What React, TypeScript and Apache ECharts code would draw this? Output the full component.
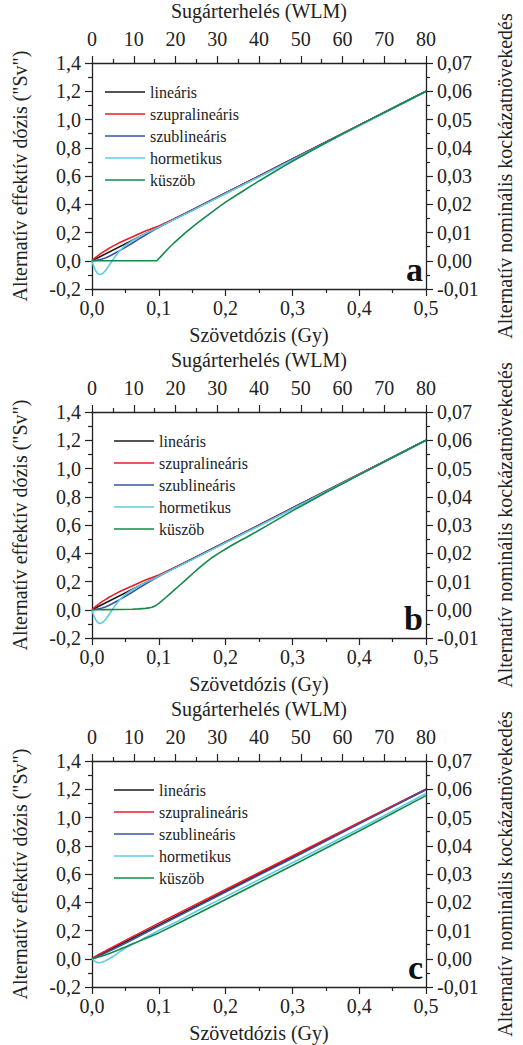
import React, { useEffect, useRef } from "react";
import * as echarts from "echarts";

const seriesNames = ["lineáris", "szupralineáris", "szublineáris", "hormetikus", "küszöb"];
const seriesColors = ["#1a1a1a", "#ed1c24", "#3953a4", "#5fcbe0", "#14894a"];
const panelLetters = ["a", "b", "c"];

const linear = [[0, 0], [0.1, 0.24], [0.2, 0.48], [0.3, 0.72], [0.4, 0.96], [0.5, 1.2]];

const supraAB = [[0, 0], [0.0025, 0.012], [0.005, 0.022], [0.0075, 0.031], [0.01, 0.04], [0.015, 0.057], [0.02, 0.072], [0.025, 0.087], [0.03, 0.1], [0.04, 0.125], [0.05, 0.147], [0.06, 0.168], [0.07, 0.19], [0.08, 0.21], [0.09, 0.228], [0.1, 0.246], [0.12, 0.29], [0.15, 0.36], [0.2, 0.48], [0.3, 0.72], [0.4, 0.96], [0.5, 1.2]];
const subAB = [[0, 0], [0.005, 0.002], [0.01, 0.006], [0.015, 0.012], [0.02, 0.02], [0.025, 0.03], [0.03, 0.042], [0.035, 0.055], [0.04, 0.068], [0.05, 0.095], [0.06, 0.124], [0.07, 0.153], [0.08, 0.182], [0.09, 0.21], [0.1, 0.236], [0.12, 0.286], [0.15, 0.358], [0.2, 0.478], [0.3, 0.718], [0.4, 0.958], [0.5, 1.2]];
const hormAB = [[0, 0], [0.0015, -0.025], [0.003, -0.045], [0.0045, -0.062], [0.006, -0.075], [0.008, -0.087], [0.01, -0.094], [0.012, -0.097], [0.014, -0.095], [0.016, -0.089], [0.018, -0.08], [0.02, -0.07], [0.022, -0.058], [0.024, -0.044], [0.026, -0.03], [0.028, -0.016], [0.03, -0.002], [0.0325, 0.015], [0.035, 0.032], [0.0375, 0.048], [0.04, 0.062], [0.045, 0.088], [0.05, 0.108], [0.055, 0.125], [0.06, 0.14], [0.07, 0.166], [0.08, 0.192], [0.09, 0.215], [0.1, 0.238], [0.15, 0.355], [0.2, 0.474], [0.25, 0.593], [0.3, 0.713], [0.4, 0.956], [0.5, 1.2]];
const thresholdA = [[0, 0], [0.097, 0], [0.101, 0.02], [0.105, 0.04], [0.11, 0.065], [0.115, 0.09], [0.12, 0.113], [0.125, 0.135], [0.13, 0.157], [0.135, 0.178], [0.14, 0.199], [0.15, 0.238], [0.16, 0.275], [0.17, 0.311], [0.18, 0.346], [0.19, 0.381], [0.2, 0.415], [0.2125, 0.453], [0.225, 0.49], [0.2375, 0.528], [0.25, 0.565], [0.2625, 0.6], [0.275, 0.635], [0.2875, 0.67], [0.3, 0.704], [0.325, 0.77], [0.35, 0.835], [0.375, 0.898], [0.4, 0.96], [0.45, 1.08], [0.5, 1.2]];
const thresholdB = [[0, 0], [0.02, 0.001], [0.04, 0.002], [0.06, 0.004], [0.07, 0.006], [0.075, 0.008], [0.08, 0.01], [0.085, 0.013], [0.09, 0.018], [0.095, 0.028], [0.1, 0.045], [0.105, 0.064], [0.11, 0.085], [0.115, 0.105], [0.12, 0.126], [0.13, 0.168], [0.14, 0.21], [0.15, 0.253], [0.16, 0.295], [0.17, 0.334], [0.18, 0.37], [0.19, 0.401], [0.2, 0.43], [0.21, 0.458], [0.22, 0.485], [0.23, 0.51], [0.24, 0.536], [0.25, 0.563], [0.26, 0.59], [0.28, 0.645], [0.3, 0.7], [0.325, 0.765], [0.35, 0.83], [0.4, 0.955], [0.45, 1.078], [0.5, 1.2]];

const supraC = [[0, 0], [0.005, 0.016], [0.01, 0.03], [0.015, 0.043], [0.02, 0.055], [0.03, 0.08], [0.05, 0.13], [0.1, 0.252], [0.2, 0.49], [0.3, 0.728], [0.4, 0.964], [0.5, 1.2]];
const subC = [[0, 0], [0.005, 0.007], [0.01, 0.017], [0.015, 0.028], [0.02, 0.04], [0.03, 0.063], [0.05, 0.11], [0.1, 0.232], [0.2, 0.472], [0.3, 0.712], [0.4, 0.955], [0.5, 1.197]];
const hormC = [[0, 0], [0.0025, -0.011], [0.005, -0.02], [0.0075, -0.025], [0.01, -0.028], [0.0125, -0.027], [0.015, -0.025], [0.0175, -0.02], [0.02, -0.015], [0.025, -0.002], [0.03, 0.012], [0.035, 0.028], [0.04, 0.045], [0.045, 0.06], [0.05, 0.075], [0.06, 0.1], [0.07, 0.125], [0.08, 0.15], [0.1, 0.2], [0.13, 0.27], [0.16, 0.345], [0.2, 0.44], [0.25, 0.56], [0.3, 0.68], [0.35, 0.8], [0.4, 0.92], [0.45, 1.045], [0.5, 1.17]];
const thresholdC = [[0, 0], [0.005, 0.006], [0.01, 0.012], [0.015, 0.019], [0.02, 0.027], [0.03, 0.044], [0.04, 0.063], [0.05, 0.083], [0.06, 0.104], [0.07, 0.123], [0.08, 0.143], [0.1, 0.183], [0.13, 0.253], [0.16, 0.324], [0.2, 0.42], [0.25, 0.54], [0.3, 0.66], [0.35, 0.782], [0.4, 0.905], [0.45, 1.03], [0.5, 1.155]];

const panels = [
  [linear, supraAB, subAB, hormAB, thresholdA],
  [linear, supraAB, subAB, hormAB, thresholdB],
  [linear, supraC, subC, hormC, thresholdC],
];

const FONT = "Liberation Serif";
const TXT = "#222";
const GRID_LEFT = 92;
const GRID_WIDTH = 345;
const GRID_TOPS = [63, 412, 761];
const GRID_HEIGHT = 226;

const comma = (v: number, d: number) => v.toFixed(d).replace(".", ",");

export default function App() {
  const ref = useRef<HTMLDivElement>(null);
  useEffect(() => {
    document.body.style.margin = "0";
    const chart = echarts.init(ref.current!, null, { renderer: "svg" });
    const axisLine = { lineStyle: { color: "#222", width: 1.3 } };
    const axisTick = { length: 7, lineStyle: { color: "#222", width: 1.2 } };
    const minorTick = { show: true, splitNumber: 2, length: 4, lineStyle: { color: "#222", width: 1.2 } };
    const label = { fontFamily: FONT, fontSize: 20, color: TXT };
    const nameStyle = { fontFamily: FONT, fontSize: 20, color: TXT };

    const grids: any[] = [];
    const xAxes: any[] = [];
    const yAxes: any[] = [];
    const legends: any[] = [];
    const series: any[] = [];
    const graphics: any[] = [];

    GRID_TOPS.forEach((top, i) => {
      grids.push({ left: GRID_LEFT, top, width: GRID_WIDTH, height: GRID_HEIGHT, show: false });
      xAxes.push({
        type: "value", gridIndex: i, position: "bottom", min: 0, max: 0.5, interval: 0.1,
        axisLine: { ...axisLine, onZero: false }, axisTick, minorTick, splitLine: { show: false },
        axisLabel: { ...label, margin: 9, formatter: (v: number) => comma(v, 1) },
        name: "Szövetdózis (Gy)", nameLocation: "middle", nameGap: 36, nameTextStyle: nameStyle,
      });
      xAxes.push({
        type: "value", gridIndex: i, position: "top", min: 0, max: 80, interval: 10,
        axisLine: { ...axisLine, onZero: false }, axisTick, minorTick, splitLine: { show: false },
        axisLabel: { ...label, margin: 14, formatter: (v: number) => String(Math.round(v)) },
        name: "Sugárterhelés (WLM)", nameLocation: "middle", nameGap: 42, nameTextStyle: nameStyle,
      });
      yAxes.push({
        type: "value", gridIndex: i, position: "left", min: -0.2, max: 1.4, interval: 0.2,
        axisLine: { ...axisLine, show: true, onZero: false }, axisTick: { ...axisTick, show: true }, minorTick, splitLine: { show: false },
        axisLabel: { ...label, margin: 11, formatter: (v: number) => comma(v, 1) },
        name: 'Alternatív effektív dózis ("Sv")', nameLocation: "middle", nameGap: 62, nameRotate: 90, nameTextStyle: nameStyle,
      });
      yAxes.push({
        type: "value", gridIndex: i, position: "right", min: -0.01, max: 0.07, interval: 0.01,
        axisLine: { ...axisLine, show: true, onZero: false }, axisTick: { ...axisTick, show: true }, minorTick, splitLine: { show: false },
        axisLabel: { ...label, margin: 11, formatter: (v: number) => comma(v, 2) },
        name: "Alternatív nominális kockázatnövekedés", nameLocation: "middle", nameGap: 69, nameRotate: 90, nameTextStyle: nameStyle,
      });
      legends.push({
        orient: "vertical", left: i === 0 ? 105 : 114, top: top + 20, padding: 0,
        icon: "rect", itemWidth: 40, itemHeight: 1.6, itemGap: 4, selectedMode: false,
        data: seriesNames,
        textStyle: { fontFamily: FONT, fontSize: 16, color: TXT, lineHeight: 18 },
      });
      panels[i].forEach((data, k) => {
        series.push({
          type: "line", name: seriesNames[k], xAxisIndex: 2 * i, yAxisIndex: 2 * i,
          data, symbol: "none", showSymbol: false, smooth: false,
          lineStyle: { color: seriesColors[k], width: 1.6 }, itemStyle: { color: seriesColors[k] },
          z: 2 + k,
        });
      });
      graphics.push({
        type: "text", x: 423, y: top + GRID_HEIGHT - 3,
        style: { text: panelLetters[i], font: `bold 34px ${FONT}`, fill: "#111", align: "right", verticalAlign: "bottom" },
      });
    });

    chart.setOption({
      animation: false,
      backgroundColor: "#fff",
      grid: grids,
      xAxis: xAxes,
      yAxis: yAxes,
      legend: legends,
      series,
      graphic: graphics,
    });
    return () => chart.dispose();
  }, []);
  return <div ref={ref} style={{ width: 523, height: 1045 }} />;
}
